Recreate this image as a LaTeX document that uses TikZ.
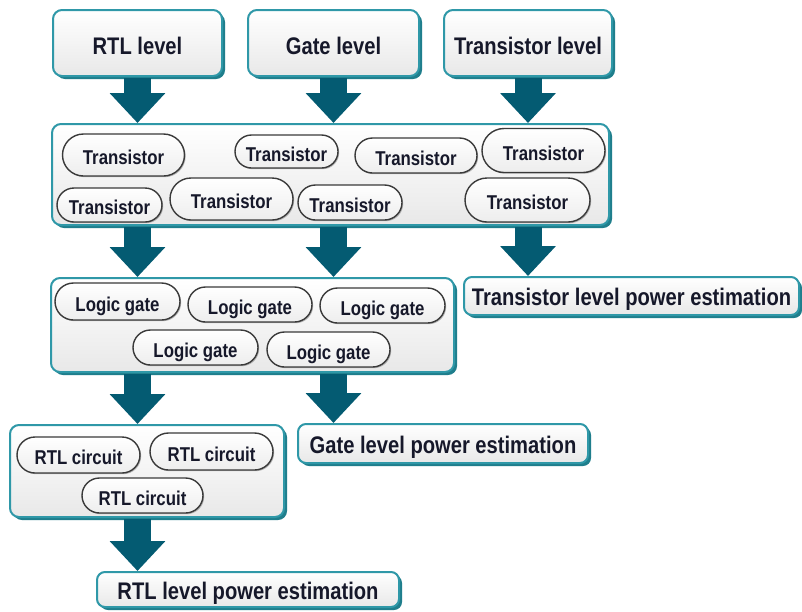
\documentclass[tikz,border=0pt]{standalone}
\usepackage{fontspec}
\setmainfont{Liberation Sans}[FakeStretch=0.84]
\usetikzlibrary{arrows.meta,shadows}
\definecolor{frame}{HTML}{2F98A8}
\definecolor{frameshadow}{HTML}{1F7E8C}
\definecolor{arrowteal}{HTML}{045B72}
\definecolor{ink}{HTML}{16182A}
\definecolor{pillline}{HTML}{3A3A3A}

\tikzset{
  panel/.style={draw=frame, line width=2pt, rounded corners=9pt,
    top color=white, bottom color=black!9, inner sep=0pt,
    drop shadow={shadow xshift=3pt, shadow yshift=-3pt, fill=frameshadow, opacity=1}},
  levelbox/.style={panel, font=\fontsize{24}{28}\selectfont\bfseries, text=ink,
    text height=23.5pt, text depth=0pt},
  resultbox/.style={levelbox, rounded corners=8pt, text height=19.5pt},
  pill/.style 2 args={draw=pillline, line width=1.4pt, minimum width=#1pt,
    minimum height=#2pt, rounded corners=#2*0.5pt, top color=white, bottom color=black!7,
    drop shadow={shadow xshift=1.2pt, shadow yshift=-1.2pt, fill=black!45, opacity=0.6},
    font=\fontsize{20}{24}\selectfont\bfseries, text=ink,
    text height=19.5pt, text depth=0pt, inner sep=0pt},
  flow/.style={draw=arrowteal, line width=27pt,
    -{Triangle[width=54pt,length=30pt]}, shorten <=1pt}
}

\begin{document}
\begin{tikzpicture}[x=1pt,y=-1pt]
\fill[white] (0,0) rectangle (802,611);
\useasboundingbox (0,0) rectangle (802,611);

% abstraction levels
\node[levelbox, minimum width=169pt, minimum height=66pt] (rtl)   at (137.5,43) {RTL level};
\node[levelbox, minimum width=171pt, minimum height=66pt] (gate)  at (333.5,43) {Gate level};
\node[levelbox, minimum width=168pt, minimum height=66pt] (trans) at (528,43)   {Transistor level};

% transistor netlist
\node[panel, minimum width=557pt, minimum height=101pt] (tbox) at (330.5,174.5) {};
\node[pill={122}{42}] (t1) at (123.5,155)   {Transistor};
\node[pill={103}{33}] (t2) at (286.5,151.5) {Transistor};
\node[pill={122}{35}] (t3) at (416,155.5)   {Transistor};
\node[pill={123}{44}] (t4) at (543.5,150.5) {Transistor};
\node[pill={105}{34}] (t5) at (109.5,205)   {Transistor};
\node[pill={123}{42}] (t6) at (231.5,199)   {Transistor};
\node[pill={104}{35}] (t7) at (350,202.5)   {Transistor};
\node[pill={125}{44}] (t8) at (527.5,200)   {Transistor};

% gate netlist
\node[panel, minimum width=403pt, minimum height=94pt] (gbox) at (252.5,325) {};
\node[pill={125}{37}] (g1) at (117.5,301.5) {Logic gate};
\node[pill={124}{35}] (g2) at (250,304.5)   {Logic gate};
\node[pill={125}{35}] (g3) at (382.5,305.5) {Logic gate};
\node[pill={125}{35}] (g4) at (195.5,347.5) {Logic gate};
\node[pill={123}{35}] (g5) at (328.5,349.5) {Logic gate};

% RTL description
\node[panel, minimum width=274pt, minimum height=92pt] (rbox) at (147,471) {};
\node[pill={123}{36}] (r1) at (78.5,455)   {RTL circuit};
\node[pill={123}{37}] (r2) at (211.5,451.5) {RTL circuit};
\node[pill={121}{35}] (r3) at (142.5,495.5) {RTL circuit};

% power estimation results
\node[resultbox, minimum width=335pt, minimum height=38pt] (tpe) at (631.5,296) {Transistor level power estimation};
\node[resultbox, minimum width=290pt, minimum height=39pt] (gpe) at (443,443.5) {Gate level power estimation};
\node[resultbox, minimum width=302pt, minimum height=35pt] (rpe) at (248,589.5) {RTL level power estimation};

% flow arrows
\draw[flow] (rtl.south)   -- (rtl.south |- tbox.north);
\draw[flow] (gate.south)  -- (gate.south |- tbox.north);
\draw[flow] (trans.south) -- (trans.south |- tbox.north);
\draw[flow] (rtl.south |- tbox.south)   -- (rtl.south |- gbox.north);
\draw[flow] (gate.south |- tbox.south)  -- (gate.south |- gbox.north);
\draw[flow] (trans.south |- tbox.south) -- (trans.south |- tpe.north);
\draw[flow] (rtl.south |- gbox.south)   -- (rtl.south |- rbox.north);
\draw[flow] (gate.south |- gbox.south)  -- (gate.south |- gpe.north);
\draw[flow] (rtl.south |- rbox.south)   -- (rtl.south |- rpe.north);
\end{tikzpicture}
\end{document}
